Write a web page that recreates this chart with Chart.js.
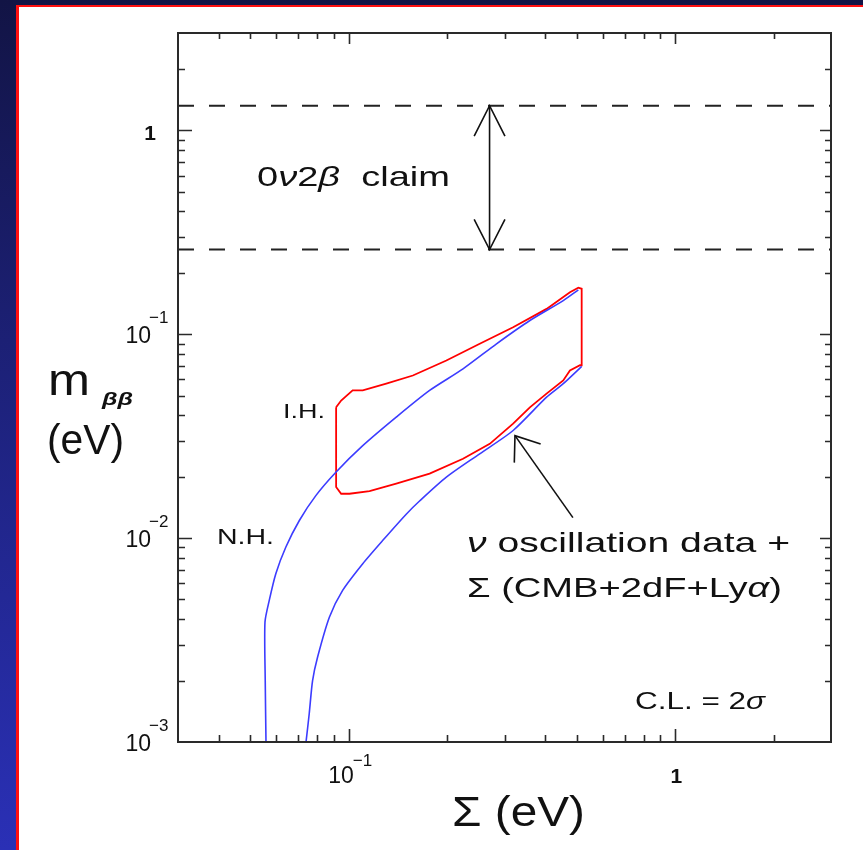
<!DOCTYPE html>
<html>
<head>
<meta charset="utf-8">
<script src="https://cdn.jsdelivr.net/npm/chart.js@4.4.0/dist/chart.umd.min.js"></script>
<style>
html, body { margin: 0; padding: 0; width: 863px; height: 850px; overflow: hidden;
    background: linear-gradient(180deg, #121445 0%, #1c2075 40%, #2a30b6 100%); }
#panel { position: absolute; left: 16px; top: 5px; width: 900px; height: 900px; background: #fff;
    border-left: 3px solid #ff1010; border-top: 2px solid #ff1010; }
#c { position: absolute; left: 0; top: 0; }
</style>
</head>
<body>
<div id="panel"></div>
<canvas id="c" width="863" height="850"></canvas>
<script>
// axis ranges (eV)
var sumRange = [0.03, 3];
var mbbRange = [0.001, 3];

// tick labels: [base, exponent]
var xTickValues = [0.1, 1];
var xTickLabels = [['10', '\u22121'], ['1', '']];
var yTickValues = [0.001, 0.01, 0.1, 1];
var yTickLabels = [['10', '\u22123'], ['10', '\u22122'], ['10', '\u22121'], ['1', '']];

// blue curve, upper branch (normal hierarchy side)
var upperSum = [0.0558, 0.0555, 0.0554, 0.0571, 0.0598, 0.0642, 0.0706, 0.0794, 0.0915, 0.1104, 0.1398, 0.1769, 0.2239, 0.2836, 0.3588, 0.454, 0.505];
var upperMbb = [0.001, 0.002, 0.00387, 0.00495, 0.00669, 0.00904, 0.0122, 0.0162, 0.0211, 0.0284, 0.0392, 0.0530, 0.0676, 0.0897, 0.1167, 0.1462, 0.165];

// blue curve, lower branch
var lowerSum = [0.0740, 0.0757, 0.0775, 0.0803, 0.0873, 0.0958, 0.1104, 0.1272, 0.1500, 0.1648, 0.1991, 0.2519, 0.3188, 0.4036, 0.454, 0.517];
var lowerMbb = [0.001, 0.00138, 0.002, 0.00261, 0.0041, 0.00554, 0.00749, 0.00975, 0.0131, 0.0152, 0.0199, 0.0259, 0.0337, 0.0491, 0.0572, 0.0695];

// red contour (closed)
var contourSum = [0.0915, 0.0915, 0.0948, 0.1005, 0.1158, 0.1398, 0.1769, 0.2239, 0.2704, 0.3188, 0.3588, 0.4036, 0.454, 0.476, 0.511, 0.517, 0.517, 0.505, 0.476, 0.4036, 0.3188, 0.2519, 0.1991, 0.1572, 0.1303, 0.1104, 0.1028, 0.0948, 0.0915];
var contourMbb = [0.0438, 0.0178, 0.0165, 0.0165, 0.0170, 0.0185, 0.0207, 0.0245, 0.0290, 0.0364, 0.0438, 0.0511, 0.0593, 0.0664, 0.0704, 0.0704, 0.167, 0.169, 0.1607, 0.1331, 0.1081, 0.0897, 0.0743, 0.0627, 0.0572, 0.0530, 0.0530, 0.0473, 0.0438];

// 0v2b claim band
var claimBand = [0.26, 1.32];
var claimArrowSum = 0.27;

// arrow pointing at the curves: tip, tail
var noteArrow = [[0.323, 0.0318], [0.486, 0.0126]];

function pts(xs, ys) {
    return xs.map(function(x, i) { return { x: x, y: ys[i] }; });
}

function rich(ctx, parts, x, y, size, width, weight) {
    var total = 0;
    parts.forEach(function(p) {
        ctx.font = (p[1] ? p[1] + ' ' : '') + (weight || '') + ' ' + size + 'px "Liberation Sans", Arial, sans-serif';
        total += ctx.measureText(p[0]).width;
    });
    var sx = width / total;
    ctx.save();
    ctx.translate(x, y);
    ctx.scale(sx, 1);
    var cx = 0;
    parts.forEach(function(p) {
        ctx.font = (p[1] ? p[1] + ' ' : '') + (weight || '') + ' ' + size + 'px "Liberation Sans", Arial, sans-serif';
        ctx.fillText(p[0], cx, 0);
        cx += ctx.measureText(p[0]).width;
    });
    ctx.restore();
}

function arrowHead(ctx, tx, ty, fx, fy, len, ang) {
    var a = Math.atan2(fy - ty, fx - tx);
    ctx.beginPath();
    ctx.moveTo(tx + len * Math.cos(a - ang), ty + len * Math.sin(a - ang));
    ctx.lineTo(tx, ty);
    ctx.lineTo(tx + len * Math.cos(a + ang), ty + len * Math.sin(a + ang));
    ctx.stroke();
}

function logTicks(min, max) {
    var out = [];
    for (var e = -4; e <= 1; e++) {
        for (var m = 1; m < 10; m++) {
            var v = m * Math.pow(10, e);
            if (v > min * 1.001 && v < max * 0.999) out.push({ v: v, major: m === 1 });
        }
    }
    return out;
}

var decorations = {
    id: 'decorations',
    afterDatasetsDraw: function(chart) {
        var ctx = chart.ctx;
        var a = chart.chartArea;
        var xs = chart.scales.x, ys = chart.scales.y;
        ctx.save();
        ctx.strokeStyle = '#2a2a2a';
        ctx.fillStyle = '#111';
        ctx.lineWidth = 2;
        ctx.strokeRect(a.left, a.top, a.right - a.left, a.bottom - a.top);

        // inward ticks
        ctx.lineWidth = 1.6;
        logTicks(sumRange[0], sumRange[1]).forEach(function(t) {
            var px = Math.round(xs.getPixelForValue(t.v)) + 0.5;
            var l = t.major ? 13 : 7;
            ctx.beginPath();
            ctx.moveTo(px, a.bottom); ctx.lineTo(px, a.bottom - l);
            ctx.moveTo(px, a.top); ctx.lineTo(px, a.top + (t.major ? 11 : 6));
            ctx.stroke();
        });
        logTicks(mbbRange[0], mbbRange[1]).forEach(function(t) {
            var py = Math.round(ys.getPixelForValue(t.v)) + 0.5;
            var l = t.major ? 14 : 7;
            ctx.beginPath();
            ctx.moveTo(a.left, py); ctx.lineTo(a.left + l, py);
            ctx.moveTo(a.right, py); ctx.lineTo(a.right - (t.major ? 11 : 6), py);
            ctx.stroke();
        });

        // tick labels
        ctx.textBaseline = 'alphabetic';
        yTickValues.forEach(function(v, i) {
            var py = ys.getPixelForValue(v);
            var lab = yTickLabels[i];
            if (lab[1]) {
                ctx.textAlign = 'right';
                ctx.font = '23px "Liberation Sans", Arial, sans-serif';
                ctx.fillText(lab[0], 151, py + 9);
                ctx.textAlign = 'left';
                ctx.font = '17px "Liberation Sans", Arial, sans-serif';
                ctx.fillText(lab[1], 149, py - 11);
            } else {
                ctx.textAlign = 'right';
                ctx.font = 'bold 21px "Liberation Sans", Arial, sans-serif';
                ctx.fillText(lab[0], 156, py + 10);
            }
        });
        xTickValues.forEach(function(v, i) {
            var px = xs.getPixelForValue(v);
            var lab = xTickLabels[i];
            if (lab[1]) {
                ctx.textAlign = 'right';
                ctx.font = '23px "Liberation Sans", Arial, sans-serif';
                ctx.fillText(lab[0], px + 5, a.bottom + 41);
                ctx.textAlign = 'left';
                ctx.font = '17px "Liberation Sans", Arial, sans-serif';
                ctx.fillText(lab[1], px + 4, a.bottom + 24);
            } else {
                ctx.textAlign = 'center';
                ctx.font = 'bold 21px "Liberation Sans", Arial, sans-serif';
                ctx.fillText(lab[0], px + 1, a.bottom + 41);
            }
        });
        ctx.textAlign = 'left';

        // axis titles
        rich(ctx, [['\u03a3 (eV)', '']], 452, 826, 42, 133);
        rich(ctx, [['m', '']], 48, 395, 44, 42);
        rich(ctx, [['\u03b2\u03b2', 'italic']], 102, 405, 19, 31, 'bold');
        rich(ctx, [['(eV)', '']], 47, 454, 42, 77);

        // annotations
        rich(ctx, [['0', ''], ['\u03bd', 'italic'], ['2', ''], ['\u03b2', 'italic'], ['  claim', '']], 257, 186, 28, 193);
        rich(ctx, [['\u03bd', 'italic'], [' oscillation data +', '']], 467, 552, 28, 323);
        rich(ctx, [['\u03a3 (CMB+2dF+Ly', ''], ['\u03b1', 'italic'], [')', '']], 467, 597, 28, 315);
        rich(ctx, [['C.L. = 2', ''], ['\u03c3', 'italic']], 635, 709, 24, 130);
        rich(ctx, [['I.H.', '']], 283, 418, 21, 42);
        rich(ctx, [['N.H.', '']], 217, 544, 22, 57);

        // double arrow for the claim band
        ctx.strokeStyle = '#111';
        ctx.lineWidth = 1.6;
        var ax = xs.getPixelForValue(claimArrowSum);
        var y1 = ys.getPixelForValue(claimBand[1]);
        var y0 = ys.getPixelForValue(claimBand[0]);
        ctx.beginPath(); ctx.moveTo(ax, y1); ctx.lineTo(ax, y0); ctx.stroke();
        arrowHead(ctx, ax, y1, ax, y0, 34, 0.47);
        arrowHead(ctx, ax, y0, ax, y1, 34, 0.47);

        // arrow to the allowed region
        var tx = xs.getPixelForValue(noteArrow[0][0]), ty = ys.getPixelForValue(noteArrow[0][1]);
        var fx = xs.getPixelForValue(noteArrow[1][0]), fy = ys.getPixelForValue(noteArrow[1][1]);
        ctx.beginPath(); ctx.moveTo(fx, fy); ctx.lineTo(tx, ty); ctx.stroke();
        arrowHead(ctx, tx, ty, fx, fy, 27, 0.64);
        ctx.restore();
    }
};

var chart = new Chart(document.getElementById('c'), {
    type: 'scatter',
    data: {
        datasets: [
            { data: pts(upperSum, upperMbb), showLine: true, borderColor: '#3c3cff', borderWidth: 1.6, pointRadius: 0, tension: 0.25 },
            { data: pts(lowerSum, lowerMbb), showLine: true, borderColor: '#3c3cff', borderWidth: 1.6, pointRadius: 0, tension: 0.25 },
            { data: pts(contourSum, contourMbb), showLine: true, borderColor: '#ff0000', borderWidth: 1.8, pointRadius: 0, tension: 0 },
            { data: pts(sumRange, [claimBand[1], claimBand[1]]), showLine: true, borderColor: '#222', borderWidth: 2, borderDash: [16, 15], pointRadius: 0 },
            { data: pts(sumRange, [claimBand[0], claimBand[0]]), showLine: true, borderColor: '#222', borderWidth: 2, borderDash: [16, 15], pointRadius: 0 }
        ]
    },
    options: {
        responsive: false,
        devicePixelRatio: 1,
        animation: false,
        layout: { padding: { left: 0, top: 33, right: 32, bottom: 0 } },
        plugins: { legend: { display: false }, tooltip: { enabled: false } },
        scales: {
            x: {
                type: 'logarithmic', min: sumRange[0], max: sumRange[1],
                grid: { display: false, drawTicks: false }, border: { display: false },
                ticks: { display: false },
                afterFit: function(s) { s.height = 108; }
            },
            y: {
                type: 'logarithmic', min: mbbRange[0], max: mbbRange[1],
                grid: { display: false, drawTicks: false }, border: { display: false },
                ticks: { display: false },
                afterFit: function(s) { s.width = 178; }
            }
        }
    },
    plugins: [decorations]
});
</script>
</body>
</html>
